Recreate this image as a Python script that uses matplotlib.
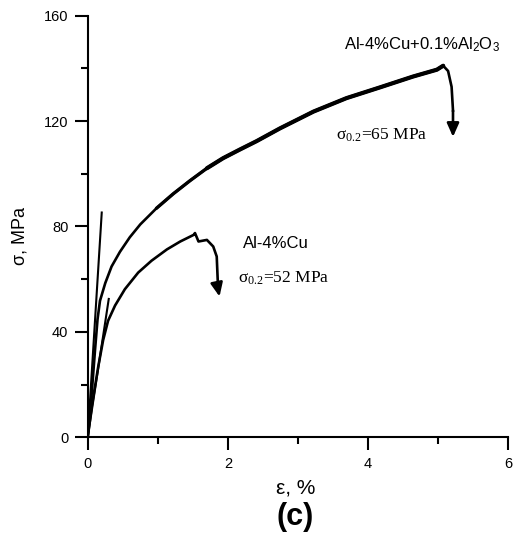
import matplotlib
matplotlib.use("Agg")
import matplotlib.pyplot as plt
from matplotlib.ticker import MultipleLocator

plt.rcParams['font.family'] = ['Liberation Sans', 'DejaVu Sans']
plt.rcParams['mathtext.fontset'] = 'custom'
plt.rcParams['mathtext.rm'] = 'Liberation Serif'
plt.rcParams['mathtext.it'] = 'Liberation Serif:italic'
plt.rcParams['mathtext.sf'] = 'Liberation Sans'

# Al-4%Cu+0.1%Al2O3 (strain %, stress MPa)
comp_eps = [0, 0.057, 0.104, 0.14, 0.175, 0.25, 0.34, 0.46, 0.60, 0.75, 0.98, 1.22,
            1.46, 1.70, 1.93, 2.17, 2.41, 2.74, 3.22, 3.69, 4.17, 4.64, 4.98, 5.07,
            5.14, 5.19, 5.21]
comp_sig = [0, 16.7, 33.1, 44.8, 51.8, 58.5, 64.8, 70.4, 75.9, 80.8, 86.9, 92.4,
            97.4, 102.1, 105.9, 109.2, 112.4, 117.2, 123.6, 128.7, 132.8, 136.9, 139.5, 141.0,
            139.0, 133.0, 124.0]
comp_tip = (5.21, 114.0)

# Al-4%Cu
base_eps = [0, 0.057, 0.15, 0.22, 0.29, 0.39, 0.53, 0.72, 0.91, 1.13, 1.32, 1.51,
            1.53, 1.58, 1.70, 1.79, 1.84, 1.86]
base_sig = [0, 11.6, 26.8, 36.9, 44.2, 50.0, 56.2, 62.5, 67.0, 71.3, 74.3, 76.8,
            77.5, 74.3, 74.9, 72.4, 68.6, 56.0]
base_tip = (1.88, 53.4)

# elastic (offset) lines
elastic1_eps = [0, 0.20]
elastic1_sig = [0, 85.3]
elastic2_eps = [0, 0.30]
elastic2_sig = [0, 52.5]

fig = plt.figure(figsize=(5.13, 5.33), dpi=100)
ax = fig.add_axes([0.171, 0.1796, 0.820, 0.791])

ax.plot(comp_eps, comp_sig, color='k', lw=1.9)
# noisy part of the record looks thicker
ax.plot(comp_eps[10:24], comp_sig[10:24], color='k', lw=2.4, solid_capstyle='round')
ax.plot(comp_eps[13:24], comp_sig[13:24], color='k', lw=3.0, solid_capstyle='round')
ax.plot(base_eps, base_sig, color='k', lw=1.9)
ax.plot(elastic1_eps, elastic1_sig, color='k', lw=1.5)
ax.plot(elastic2_eps, elastic2_sig, color='k', lw=1.5)

arrow = dict(arrowstyle='-|>,head_length=0.45,head_width=0.2', color='k', lw=1.9,
             mutation_scale=18, shrinkA=0, shrinkB=0)
ax.annotate('', xy=comp_tip, xytext=(comp_eps[-1], comp_sig[-1]), arrowprops=arrow)
ax.annotate('', xy=base_tip, xytext=(base_eps[-1], base_sig[-1]), arrowprops=arrow)

ax.text(3.66, 147.1, r'Al-4%Cu+0.1%Al$_\mathsf{2}$O$_\mathsf{3}$', fontsize=12,
        ha='left', va='baseline')
ax.text(3.54, 112.9, r'$\mathrm{\sigma}_\mathrm{0.2}$=65 MPa', fontsize=12.5,
        family='Liberation Serif', ha='left', va='baseline')
ax.text(2.215, 71.8, 'Al-4%Cu', fontsize=12, ha='left', va='baseline')
ax.text(2.14, 58.6, r'$\mathrm{\sigma}_\mathrm{0.2}$=52 MPa', fontsize=12.5,
        family='Liberation Serif', ha='left', va='baseline')

ax.set_xlim(0, 6)
ax.set_ylim(0, 160)
ax.xaxis.set_major_locator(MultipleLocator(2))
ax.xaxis.set_minor_locator(MultipleLocator(1))
ax.yaxis.set_major_locator(MultipleLocator(40))
ax.yaxis.set_minor_locator(MultipleLocator(20))
ax.spines['top'].set_visible(False)
ax.spines['right'].set_visible(False)
ax.spines['left'].set_linewidth(1.5)
ax.spines['bottom'].set_linewidth(1.5)
ax.tick_params(which='major', length=9.5, width=1.5, labelsize=10.5, pad=4.5)
ax.tick_params(which='minor', length=5, width=1.5)

ax.set_xlabel('ε, %', fontsize=15)
ax.set_ylabel('σ, MPa', fontsize=13)
ax.xaxis.set_label_coords(0.495, -0.098)
ax.yaxis.set_label_coords(-0.140, 0.477)

fig.text(0.575, 0.03, '(c)', fontsize=22, fontweight='bold', ha='center', va='center')

fig.savefig('out.png', dpi=100)
